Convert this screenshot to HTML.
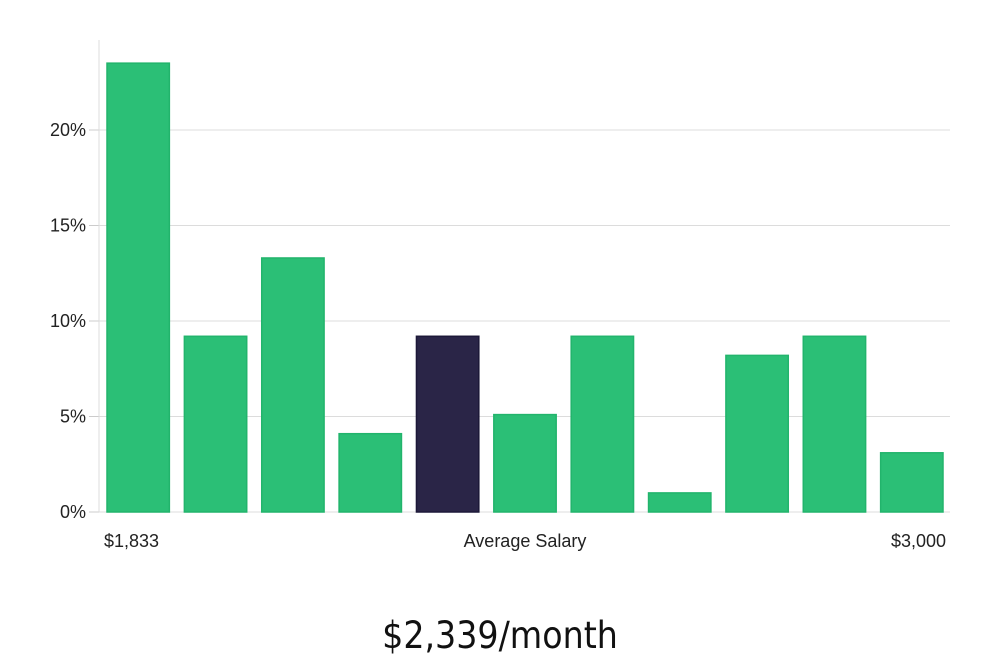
<!DOCTYPE html>
<html><head><meta charset="utf-8"><style>
body{margin:0;background:#fff;width:1000px;height:660px;overflow:hidden;font-family:"Liberation Sans","DejaVu Sans",sans-serif;}
</style></head><body>
<svg id="chart" width="1000" height="660" xmlns="http://www.w3.org/2000/svg">
<g id="grid"></g>
<g id="bars"></g>
<g id="yaxis"></g>
<text x="104" y="547" font-size="18" fill="#222">$1,833</text>
<text x="525" y="547" font-size="18" fill="#222" text-anchor="middle">Average Salary</text>
<text x="946" y="547" font-size="18" fill="#222" text-anchor="end">$3,000</text>
<text x="500" y="648" font-size="37" fill="#111" text-anchor="middle" font-family="'DejaVu Sans Condensed','Liberation Sans Narrow','Liberation Sans',sans-serif" font-weight="300">$2,339/month</text>
</svg>
<script>
const categories=["b1","b2","b3","b4","b5","b6","b7","b8","b9","b10","b11"];
const values=[23.5,9.2,13.3,4.1,9.2,5.1,9.2,1.0,8.2,9.2,3.1];
const highlight=[false,false,false,false,true,false,false,false,false,false,false];
const yTicks=[0,5,10,15,20];
const yTickLabels=["0%","5%","10%","15%","20%"];
const NS="http://www.w3.org/2000/svg";
const x0=99,x1=950,yBase=512,pxPerUnit=19.1;
const band=(x1-x0)/categories.length;
function y(v){return yBase-v*pxPerUnit;}
function xb(i){return x0+i*band+8;}
const grid=document.getElementById('grid'),bars=document.getElementById('bars'),ya=document.getElementById('yaxis');
function mk(tag,attrs,parent){const e=document.createElementNS(NS,tag);for(const k in attrs)e.setAttribute(k,attrs[k]);parent.appendChild(e);return e;}
yTicks.forEach((t,i)=>{
 const l=mk('line',{x1:x0,x2:x1,y1:y(t),y2:y(t),stroke:'#dcdcdc','stroke-width':1},grid);
 
 
 const tk=mk('line',{x1:x0-10,x2:x0,y1:y(t),y2:y(t),stroke:'#ccc','stroke-width':1},ya);
 
 
 const tx=mk('text',{x:86,y:y(t)+6,'font-size':18,fill:'#222','text-anchor':'end'},ya);
 tx.textContent=yTickLabels[i];
 
 
});
const ax=mk('line',{x1:x0,x2:x0,y1:40,y2:yBase,stroke:'#ddd','stroke-width':1},ya);


values.forEach((v,i)=>{
 const r=mk('rect',{x:xb(i),y:y(v),width:band-15,height:yBase-y(v),fill:highlight[i]?'#2a2547':'#2bbf76',stroke:highlight[i]?'#1c1838':'#22b46c','stroke-width':1.5},bars);
 
 
});
</script>
</body></html>
